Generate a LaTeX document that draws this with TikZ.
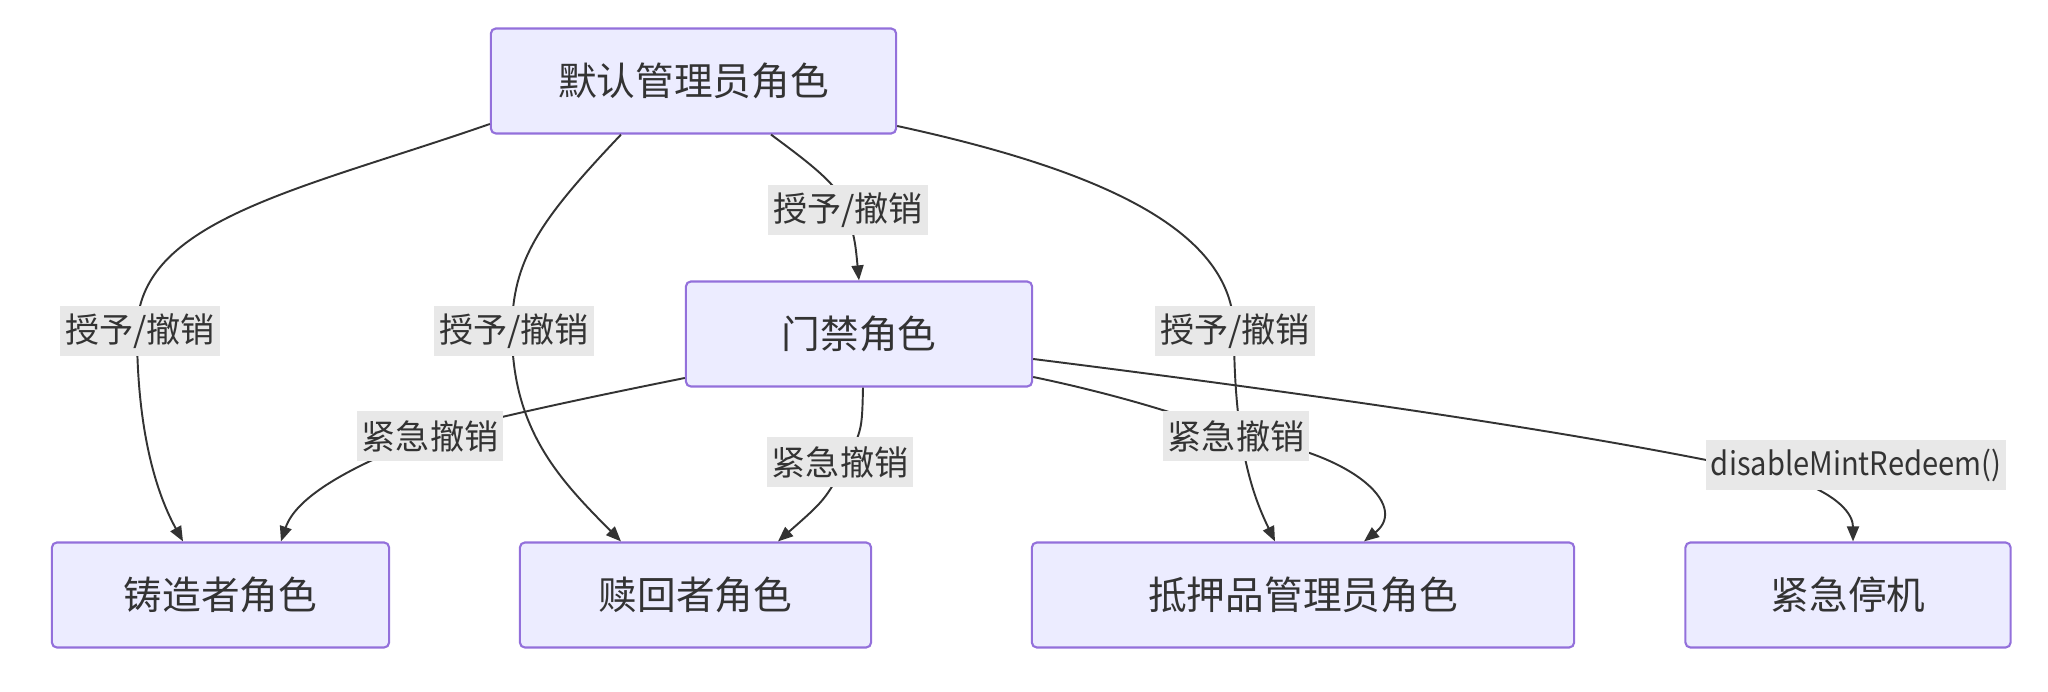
\documentclass[tikz,border=0pt]{standalone}
\usepackage{fontspec}
\setmainfont{Noto Sans CJK SC}
\newfontfamily\narrowfont{Noto Sans CJK SC}[FakeStretch=0.9]
\usetikzlibrary{arrows.meta,calc}
\definecolor{rolefill}{HTML}{ECECFF}
\definecolor{roleline}{HTML}{9370DB}
\definecolor{edgeline}{HTML}{333333}
\definecolor{labelfill}{HTML}{E8E8E8}
\tikzset{every picture/.style={line width=0.55pt}}

\begin{document}
\begin{tikzpicture}[x=0.01cm, y=-0.01cm,
    role/.style={draw=roleline, fill=rolefill, rounded corners=0.05cm, line width=0.6pt, minimum height=1.05cm, text=edgeline, font=\fontsize{11}{13}\selectfont},
    edge/.style={draw=edgeline, -{Triangle[length=0.15cm, width=0.12cm]}},
    elabel/.style={fill=labelfill, text=edgeline, inner xsep=0.05cm, inner ysep=0pt, minimum height=0.49cm, font=\fontsize{9.7}{11}\selectfont}]
    \useasboundingbox (0,0) rectangle (2048,692);

    % Role nodes
    \node[role, minimum width=4.05cm] (admin) at (693.5,81) {默认管理员角色};
    \node[role, minimum width=3.46cm] (gate) at (859,334) {门禁角色};
    \node[role, minimum width=3.37cm] (minter) at (220.5,595) {铸造者角色};
    \node[role, minimum width=3.51cm] (redeem) at (695.5,595) {赎回者角色};
    \node[role, minimum width=5.42cm] (coll) at (1303,595) {抵押品管理员角色};
    \node[role, minimum width=3.25cm] (stop) at (1848,595) {紧急停机};

    % Grant / revoke from admin
    \draw[edge] ($(admin.west)+(0,43)$) .. controls (300,190) and (137,220) .. (137,331)
        .. controls (137,440) and (160,500) .. ($(minter.north)+(-37.5,0)$);
    \draw[edge] ($(admin.south)+(-72.5,0)$) .. controls (540,220) and (512,260) .. (512,331)
        .. controls (512,430) and (560,480) .. ($(redeem.north)+(-74.5,0)$);
    \draw[edge] ($(admin.south)+(77.5,0)$) .. controls (805,160) and (840,185) .. (846,208)
        .. controls (855,240) .. (gate.north);
    \draw[edge] ($(admin.east)+(0,45)$) .. controls (1100,170) and (1234,230) .. (1234,331)
        .. controls (1234,450) and (1255,500) .. ($(coll.north)+(-28,0)$);

    % Emergency revoke from gate
    \draw[edge] ($(gate.west)+(0,44)$) .. controls (600,395) and (480,420) .. (430,436)
        .. controls (340,470) and (295,500) .. ($(minter.north)+(60.5,0)$);
    \draw[edge] ($(gate.south)+(4,0)$) .. controls (862,430) .. (846,462)
        .. controls (825,500) .. ($(redeem.north)+(82.5,0)$);
    \draw[edge] ($(gate.east)+(0,43)$) .. controls (1120,395) and (1200,420) .. (1234,436)
        .. controls (1350,450) and (1410,505) .. ($(coll.north)+(61,0)$);
    \draw[edge] ($(gate.east)+(0,25)$) .. controls (1400,405) and (1650,445) .. (1790,478)
        .. controls (1840,495) and (1853,515) .. ($(stop.north)+(5,0)$);

    % Edge labels
    \node[elabel] (grant1) at (140,331) {授予/撤销};
    \node[elabel] (grant2) at (514,331) {授予/撤销};
    \node[elabel] (grant3) at (848,210) {授予/撤销};
    \node[elabel] (grant4) at (1235,331) {授予/撤销};
    \node[elabel] (revoke1) at (430,436) {紧急撤销};
    \node[elabel] (revoke2) at (840,462) {紧急撤销};
    \node[elabel] (revoke3) at (1236,436) {紧急撤销};
    \node[elabel, font=\narrowfont\fontsize{9.2}{11}\selectfont] (halt) at (1856,465) {disableMintRedeem()};
\end{tikzpicture}
\end{document}
